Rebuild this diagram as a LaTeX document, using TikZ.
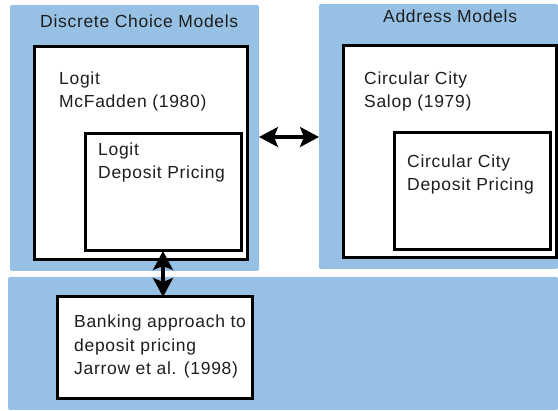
\documentclass[tikz,border=0pt]{standalone}
\usepackage{fontspec}
\setmainfont{Liberation Sans}[LetterSpace=4]
\usetikzlibrary{arrows.meta}
\definecolor{panelblue}{RGB}{150,193,228}
\definecolor{inkgray}{RGB}{30,30,30}
\tikzset{
  panel/.style={fill=panelblue, draw=none, rounded corners=2pt},
  modelbox/.style={fill=white, draw=black, line width=3pt},
  label/.style={anchor=base west, inner sep=0pt, text=inkgray, align=left,
    font=\fontsize{17.5}{23.5}\selectfont},
  bigtip/.tip={Stealth[length=19pt,width=20pt,inset=4pt]},
  link/.style={line width=3.2pt, bigtip-bigtip}
}
\begin{document}
\begin{tikzpicture}[x=1pt,y=-1pt]
\useasboundingbox[fill=white] (0,0) rectangle (558,411);

% three shaded groups
\path[panel] (10,5) rectangle (259,271);
\path[panel] (319,4) rectangle (558,269);
\coordinate (addrW) at (319,137);
\coordinate (dcmE) at (259,137);
\path[panel] (8,277) rectangle (558,410);

% group titles
\node[label] (dcmtitle) at (40,28) {Discrete Choice Models};
\node[label] (addrtitle) at (383,23) {Address Models};

% discrete choice side (multi-line labels sit on their last baseline)
\draw[modelbox] (34,47) rectangle (247,260);
\node[label] (logit) at (59,108) {Logit\\McFadden (1980)};
\draw[modelbox] (85,134) rectangle (241,251);
\coordinate (logitdepS) at (163,251);
\node[label] (logitdep) at (98,179) {Logit\\Deposit Pricing};

% address model side
\draw[modelbox] (343,46) rectangle (556,258);
\node[label] (circ) at (364,108) {Circular City\\Salop (1979)};
\draw[modelbox] (394,133) rectangle (550,250);
\node[label] (circdep) at (407,191) {Circular City\\Deposit Pricing};

% banking approach
\draw[modelbox] (57,297) rectangle (252,399);
\coordinate (bankN) at (163,297);
\node[label] (bank) at (74,375) {Banking approach to\\deposit pricing\\Jarrow et al. (1998)};

% connectors
\draw[link] (dcmE) -- (addrW);
\draw[link] (logitdepS) -- (bankN);
\end{tikzpicture}
\end{document}
